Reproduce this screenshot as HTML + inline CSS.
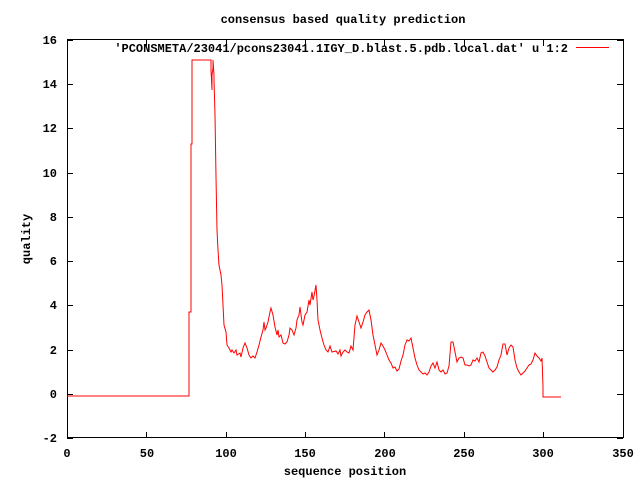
<!DOCTYPE html>
<html><head><style>body{margin:0;background:#fff}</style></head><body>
<svg width="640" height="480" xmlns="http://www.w3.org/2000/svg" font-family="Liberation Mono, DejaVu Sans Mono, monospace" font-size="12" font-weight="bold">
<rect width="640" height="480" fill="#fff"/>
<rect x="67.5" y="39.5" width="556" height="398" fill="none" stroke="#000" stroke-width="1"/>
<g stroke="#000" stroke-width="1">
<path d="M67 438.5h6M617 438.5h6M67 394.5h6M617 394.5h6M67 350.5h6M617 350.5h6M67 305.5h6M617 305.5h6M67 261.5h6M617 261.5h6M67 217.5h6M617 217.5h6M67 173.5h6M617 173.5h6M67 128.5h6M617 128.5h6M67 84.5h6M617 84.5h6M67 40.5h6M617 40.5h6"/>
<path d="M67.5 438v-6M67.5 40v6M146.5 438v-6M146.5 40v6M226.5 438v-6M226.5 40v6M305.5 438v-6M305.5 40v6M384.5 438v-6M384.5 40v6M464.5 438v-6M464.5 40v6M543.5 438v-6M543.5 40v6M623.5 438v-6M623.5 40v6"/>
</g>
<g text-anchor="end">
<text x="57" y="442">-2</text><text x="57" y="398">0</text><text x="57" y="354">2</text><text x="57" y="309">4</text><text x="57" y="265">6</text><text x="57" y="221">8</text><text x="57" y="177">10</text><text x="57" y="132">12</text><text x="57" y="88">14</text><text x="57" y="44">16</text>
</g>
<g text-anchor="middle">
<text x="67" y="457">0</text><text x="147" y="457">50</text><text x="226" y="457">100</text><text x="305" y="457">150</text><text x="385" y="457">200</text><text x="464" y="457">250</text><text x="543" y="457">300</text><text x="623" y="457">350</text>
<text x="345" y="475">sequence position</text>
<text x="343" y="23">consensus based quality prediction</text>
<text transform="translate(30,239) rotate(-90)">quality</text>
</g>
<text x="568" y="52" text-anchor="end">'PCONSMETA/23041/pcons23041.1IGY_D.blast.5.pdb.local.dat' u 1:2</text>
<rect x="576" y="47" width="33" height="1" fill="#f00"/>
<polyline fill="none" stroke="#f00" stroke-width="1" points="67,396 189,396 189,312 191,312 191,144 192,144 192,60 211,60 211,70 212,90 212,75 213,68 213,60 214,75 214,80 215,115 216,177 217,230 218,250 219,265 221,275 222,285 223,305 224,325 226,332 227,345 229,348 231,352 232,350 234,353 236,350 237,355 240,353 241,357 243,348 245,343 247,348 249,355 251,358 253,356 255,358 257,352 259,345 261,337 263,330 264,322 265,330 266,328 268,322 270,312 271,308 273,315 275,327 277,335 278,330 279,337 281,335 283,343 285,344 287,342 289,335 290,328 292,330 294,335 296,328 297,320 299,315 300,307 302,322 303,325 304,320 305,315 307,312 309,300 310,305 312,292 313,300 314,296 316,285 317,300 318,320 320,330 322,338 324,345 326,350 328,352 330,346 332,352 336,351 338,354 340,350 341,356 343,352 345,350 347,352 349,353 351,346 353,350 355,325 357,316 359,322 361,328 363,322 365,315 367,312 369,310 371,320 373,335 375,345 377,355 379,350 381,343 383,346 385,350 387,355 389,360 391,363 393,368 395,367 397,371 399,369 401,361 403,355 405,345 407,340 409,341 411,338 413,348 415,358 417,365 419,370 421,372 423,374 425,373 427,375 429,372 431,366 433,363 435,368 437,362 439,370 441,372 443,370 445,374 447,373 449,366 451,342 453,342 455,352 457,362 459,358 461,357 463,358 465,365 467,365 469,366 471,365 473,360 475,361 477,358 479,362 481,353 483,352 485,356 487,362 489,368 491,370 493,372 495,370 497,367 499,360 501,355 503,344 505,344 507,355 509,348 511,345 513,347 515,360 517,368 519,372 521,375 523,373 525,371 527,368 529,365 531,364 533,360 535,353 537,356 539,358 541,361 542,358 543,387 543,397 561,397"/>
</svg>
</body></html>
